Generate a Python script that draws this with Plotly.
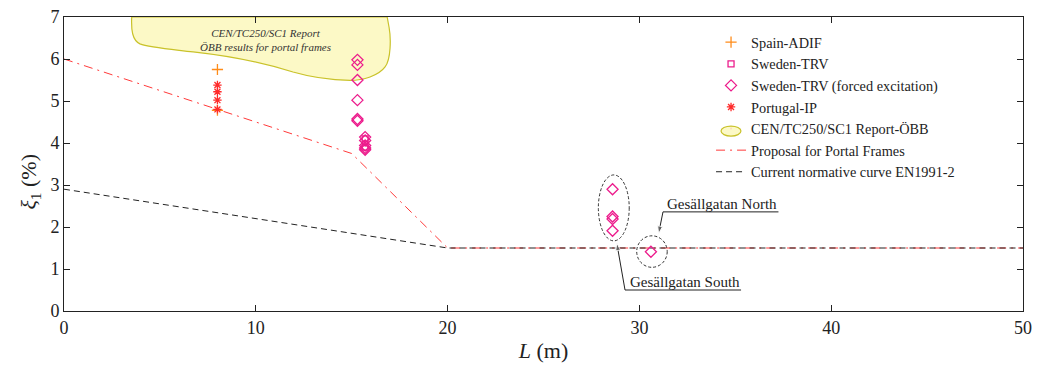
import plotly.graph_objects as go

# ---- measured damping ratios -------------------------------------------
spain_L = [8.0, 8.0]
spain_xi = [5.75, 4.78]

portugal_L = [8.0, 8.0, 8.0, 8.0]
portugal_xi = [5.38, 5.22, 5.02, 4.80]

sweden_L = [15.7, 15.7]
sweden_xi = [4.10, 3.90]

forced_L = [15.3, 15.3, 15.3, 15.3, 15.3, 15.3,
            15.7, 15.7, 15.7, 15.7, 15.7,
            28.6, 28.6, 28.6, 28.6, 30.6]
forced_xi = [5.98, 5.86, 5.50, 5.02, 4.57, 4.53,
             4.14, 4.06, 3.94, 3.88, 3.84,
             2.90, 2.25, 2.19, 1.91, 1.41]

# ---- design curves -------------------------------------------------------
proposal_L = [0, 15, 20, 50]
proposal_xi = [6.0, 3.75, 1.5, 1.5]

en1991_L = [0, 20, 50]
en1991_xi = [2.9, 1.5, 1.5]

x_ticks = [0, 10, 20, 30, 40, 50]
y_ticks = [0, 1, 2, 3, 4, 5, 6, 7]

# ---- callout leaders: underline start -> arrow tip -----------------------
north_leader_L = [31.23, 31.0]
north_leader_xi = [2.36, 1.84]
south_leader_L = [29.25, 28.82]
south_leader_xi = [0.50, 1.62]

SERIF = "Liberation Serif"
MAGENTA = "#ec1c8c"
INK = "#222222"

fig = go.Figure()

fig.add_trace(go.Scatter(
    x=proposal_L, y=proposal_xi, mode="lines", name="Proposal for Portal Frames",
    line=dict(color="#ff3a3a", width=1, dash="9px,5px,2px,5px")))
fig.add_trace(go.Scatter(
    x=en1991_L, y=en1991_xi, mode="lines", name="Current normative curve EN1991-2",
    line=dict(color=INK, width=1, dash="6px,4px")))

fig.add_trace(go.Scatter(
    x=spain_L, y=spain_xi, mode="markers", name="Spain-ADIF",
    marker=dict(symbol="cross-thin-open", size=8, color="#ff8c1a",
                line=dict(color="#ff8c1a", width=1.3))))
fig.add_trace(go.Scatter(
    x=sweden_L, y=sweden_xi, mode="markers", name="Sweden-TRV",
    marker=dict(symbol="square-open", size=6, color=MAGENTA,
                line=dict(color=MAGENTA, width=1.3))))
fig.add_trace(go.Scatter(
    x=forced_L, y=forced_xi, mode="markers", name="Sweden-TRV (forced excitation)",
    marker=dict(symbol="diamond-open", size=8.5, color=MAGENTA,
                line=dict(color=MAGENTA, width=1.3))))
fig.add_trace(go.Scatter(
    x=portugal_L, y=portugal_xi, mode="markers", name="Portugal-IP",
    marker=dict(symbol="asterisk-open", size=7, color="#ff2a2a",
                line=dict(color="#ff2a2a", width=1.3))))
# legend entry for the ÖBB region (its key is drawn as an ellipse below)
fig.add_trace(go.Scatter(
    x=[None], y=[None], mode="markers", name="CEN/TC250/SC1 Report-ÖBB",
    marker=dict(size=1, opacity=0)))

# callout leaders with arrowheads
for lx, ly in ((north_leader_L, north_leader_xi), (south_leader_L, south_leader_xi)):
    fig.add_trace(go.Scatter(
        x=lx, y=ly, mode="lines+markers", showlegend=False, hoverinfo="skip",
        line=dict(color=INK, width=1),
        marker=dict(symbol="arrow", size=[0, 8], color=INK, angleref="previous")))

# ÖBB results region (shaded blob, clipped by the top of the frame)
blob = ("M 3.53,7.0 C 3.5,6.7 3.55,6.45 3.96,6.36 "
        "C 4.4,6.28 5.0,6.26 6.73,6.17 "
        "C 8.5,6.08 10.5,5.90 11.94,5.69 "
        "C 13.0,5.55 13.9,5.50 14.91,5.49 "
        "C 15.6,5.49 16.4,5.60 16.74,5.81 "
        "C 17.05,6.0 17.05,6.5 16.95,6.75 "
        "L 16.85,7.0 Z")
fig.add_shape(type="path", path=blob, xref="x", yref="y", layer="below",
              fillcolor="#fcf9c6", line=dict(color="#c9c22a", width=1.2))

fig.add_annotation(x=10.53, y=6.45, xref="x", yref="y", showarrow=False,
                   text="<i>CEN/TC250/SC1 Report</i><br><i>ÖBB results for portal frames</i>",
                   font=dict(family=SERIF, size=11, color="#333333"))

# legend key for the ÖBB region
fig.add_shape(type="circle", xref="paper", yref="paper",
              x0=0.6851, x1=0.7059, y0=0.595, y1=0.629,
              fillcolor="#fcf9c6", line=dict(color="#c9c22a", width=1.2))

# grouping ellipses for Gesällgatan
fig.add_shape(type="circle", xref="x", yref="y", x0=27.86, x1=29.47, y0=1.67, y1=3.24,
              line=dict(color="#333333", width=1, dash="3px,2px"))
fig.add_shape(type="circle", xref="x", yref="y", x0=29.86, x1=31.45, y0=1.04, y1=1.79,
              line=dict(color="#333333", width=1, dash="3px,2px"))

# callout texts with underlines
fig.add_annotation(x=34.3, y=2.54, xref="x", yref="y", showarrow=False,
                   text="Gesällgatan North", font=dict(family=SERIF, size=15, color=INK))
fig.add_shape(type="line", xref="x", yref="y", x0=31.23, x1=37.25, y0=2.36, y1=2.36,
              line=dict(color=INK, width=1))
fig.add_annotation(x=32.38, y=0.68, xref="x", yref="y", showarrow=False,
                   text="Gesällgatan South", font=dict(family=SERIF, size=15, color=INK))
fig.add_shape(type="line", xref="x", yref="y", x0=29.25, x1=35.3, y0=0.5, y1=0.5,
              line=dict(color=INK, width=1))

# y-axis title
fig.add_annotation(x=-0.0355, y=0.44, xref="paper", yref="paper", showarrow=False,
                   xanchor="center", yanchor="middle",
                   textangle=-90, text="<i>ξ</i><sub>1</sub> (%)",
                   font=dict(family=SERIF, size=22, color=INK))

axis_common = dict(showgrid=False, zeroline=False, showline=True, mirror="ticks",
                   linecolor=INK, linewidth=1, ticks="inside", ticklen=6,
                   tickcolor=INK, automargin=False,
                   tickfont=dict(family=SERIF, size=18, color=INK))

fig.update_xaxes(range=[0, 50], tickvals=x_ticks, **axis_common,
                 title=dict(text="<i>L</i> (m)", font=dict(family=SERIF, size=22, color=INK),
                            standoff=6))
fig.update_yaxes(range=[0, 7], tickvals=y_ticks, **axis_common)

fig.update_layout(
    width=1037, height=371,
    margin=dict(l=64, r=14, t=17, b=60),
    plot_bgcolor="white", paper_bgcolor="white",
    font=dict(family=SERIF, color=INK),
    showlegend=True,
    legend=dict(x=0.6747, y=0.968, xanchor="left", yanchor="top",
                bgcolor="rgba(0,0,0,0)", borderwidth=0,
                font=dict(family=SERIF, size=14.3, color=INK),
                traceorder="normal"),
)

# legend order: measurements, ÖBB region, then design curves
order = ["Spain-ADIF", "Sweden-TRV", "Sweden-TRV (forced excitation)", "Portugal-IP",
         "CEN/TC250/SC1 Report-ÖBB", "Proposal for Portal Frames",
         "Current normative curve EN1991-2"]
for tr in fig.data:
    if tr.name in order:
        tr.legendrank = 100 * (order.index(tr.name) + 1)

fig.write_html("out.html")
